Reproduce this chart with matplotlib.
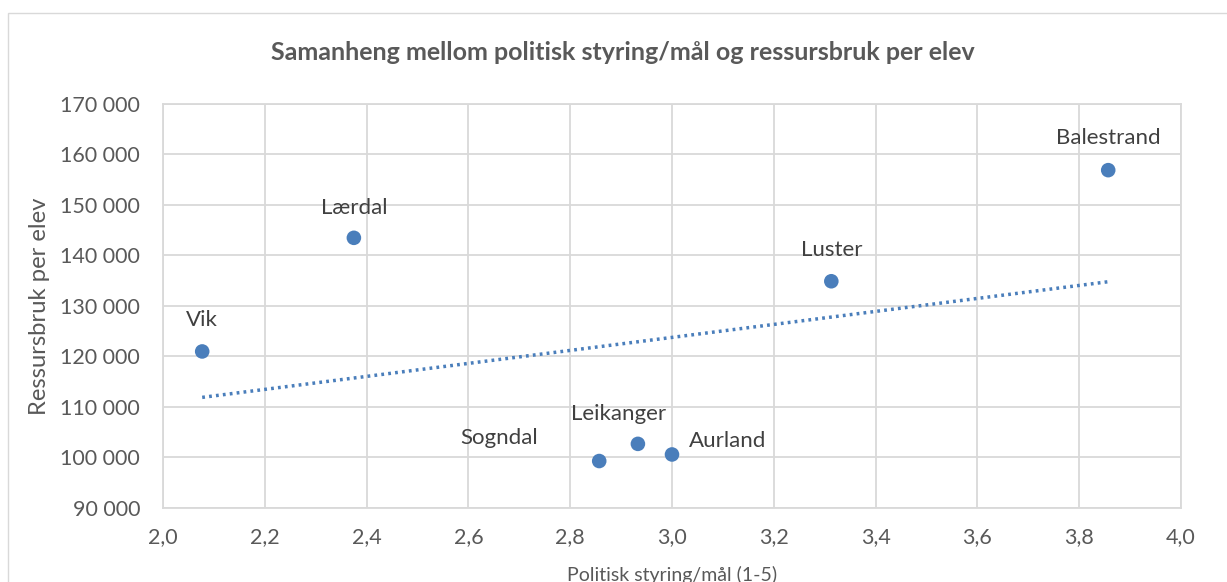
import numpy as np
import matplotlib
matplotlib.use("Agg")
import matplotlib.pyplot as plt
from matplotlib.patches import Rectangle
from matplotlib.ticker import FuncFormatter, MultipleLocator

plt.rcParams['font.family'] = ['Lato', 'DejaVu Sans']

kommunar = ["Vik", "Lærdal", "Sogndal", "Leikanger", "Aurland", "Luster", "Balestrand"]
styring = [2.077, 2.375, 2.857, 2.933, 3.0, 3.313, 3.857]
ressurs = [121000, 143500, 99300, 102700, 100600, 134900, 156900]

# label placement (pixel offsets, alignment)
label_pos = {
    "Vik": (0, 31, "center"),
    "Lærdal": (0, 30, "center"),
    "Sogndal": (-61, 23, "right"),
    "Leikanger": (-19, 30, "center"),
    "Aurland": (17, 13, "left"),
    "Luster": (0, 31, "center"),
    "Balestrand": (0, 32, "center"),
}

TXT = "#595959"
GRID = "#d9d9d9"
BLUE = "#4a7ebb"

W, H = 1227, 582
fig = plt.figure(figsize=(W / 100, H / 100), dpi=100)
fig.patch.set_facecolor("white")

# chart frame
fig.add_artist(Rectangle((8 / W, 0 - 0.01), 1.02, 1 - 13 / H + 0.01,
                         transform=fig.transFigure, fill=False,
                         edgecolor=GRID, lw=1.0))

ax = fig.add_axes([163 / W, 1 - 508 / H, 1018 / W, 404 / H])
ax.set_xlim(2.0, 4.0)
ax.set_ylim(90000, 170000)
ax.xaxis.set_major_locator(MultipleLocator(0.2))
ax.yaxis.set_major_locator(MultipleLocator(10000))
ax.xaxis.set_major_formatter(FuncFormatter(lambda v, p: f"{v:.1f}".replace(".", ",")))
ax.yaxis.set_major_formatter(FuncFormatter(lambda v, p: f"{int(round(v)):,}".replace(",", " ")))
ax.grid(True, color=GRID, lw=1.3)
ax.set_axisbelow(True)
for s in ax.spines.values():
    s.set_color(GRID)
    s.set_linewidth(1.3)
ax.tick_params(length=0, labelsize=15.5, colors=TXT)
ax.tick_params(axis='x', pad=14)
ax.tick_params(axis='y', pad=16.5)

# trendline (linear fit)
x = np.array(styring)
y = np.array(ressurs)
k, m = np.polyfit(x, y, 1)
xt = np.array([x.min(), x.max()])
ax.plot(xt, k * xt + m, linestyle=(0, (0.8, 1.2)), color=BLUE, lw=2.5, zorder=2)

ax.scatter(x, y, s=110, color=BLUE, zorder=3, edgecolors="none")

for name, xi, yi in zip(kommunar, styring, ressurs):
    dx, dy, ha = label_pos[name]
    ax.annotate(name, (xi, yi), xytext=(dx, dy), textcoords="offset pixels",
                ha=ha, va="center", fontsize=16, color="#404040")

fig.text(623 / W, 1 - 52 / H, "Samanheng mellom politisk styring/mål og ressursbruk per elev",
         ha="center", va="center", fontsize=18, fontweight="bold", color=TXT)
fig.text(40 / W, 1 - 306 / H, "Ressursbruk per elev", rotation=90,
         ha="center", va="center", fontsize=17.2, color=TXT)
fig.text(672 / W, 1 - 575 / H, "Politisk styring/mål (1-5)",
         ha="center", va="center", fontsize=14, color=TXT)

fig.savefig("out.png", dpi=100, facecolor="white")
